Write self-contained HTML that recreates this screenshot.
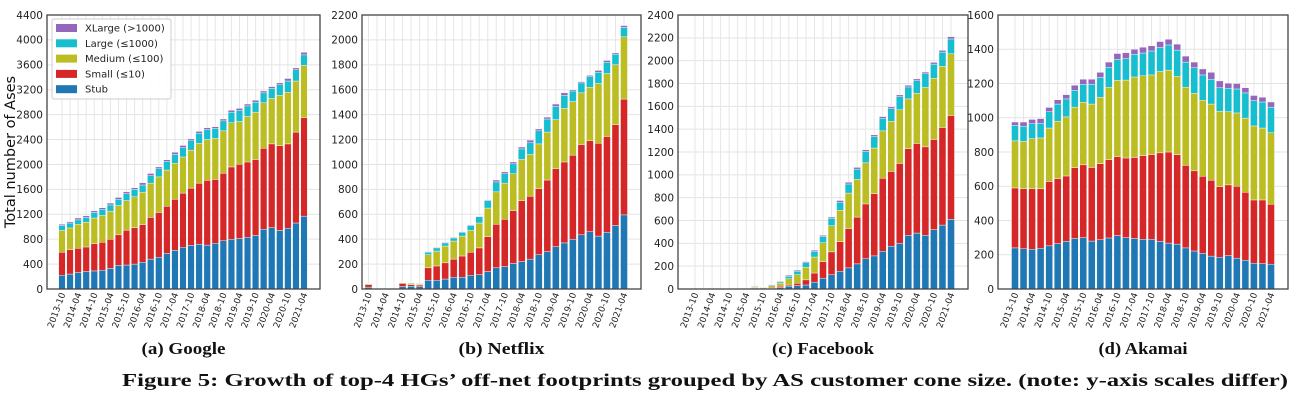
<!DOCTYPE html>
<html><head><meta charset="utf-8">
<style>
html,body{margin:0;padding:0;background:#fff;}
body{width:1297px;height:406px;overflow:hidden;}
svg text{font-family:"DejaVu Sans","Liberation Sans",sans-serif;}
.cap{font-family:"Liberation Serif",serif;font-weight:bold;}
</style></head>
<body>
<svg id="fig" width="1297" height="406" viewBox="0 0 1297 406" xmlns="http://www.w3.org/2000/svg"></svg>
<script>
// ---- data (cumulative stack levels per bar, quarterly 2013-10 .. 2021-04) ----
const tickLabels = ["2013-10","2014-04","2014-10","2015-04","2015-10","2016-04","2016-10","2017-04","2017-10","2018-04","2018-10","2019-04","2019-10","2020-04","2020-10","2021-04"];
const seriesNames = ["Stub","Small (≤10)","Medium (≤100)","Large (≤1000)","XLarge (>1000)"];
const seriesColors = ["#1f77b4","#d62728","#bcbd22","#17becf","#9467bd"];

const googleStub   = [220,240,265,280,290,300,330,380,385,400,430,480,510,570,620,670,700,720,705,735,775,800,810,830,860,960,985,940,975,1060,1170];
const googleSmall  = [590,630,655,675,730,750,800,870,945,985,1035,1150,1230,1330,1440,1540,1620,1700,1745,1760,1860,1960,2005,2040,2080,2260,2330,2300,2330,2520,2750];
const googleMedium = [940,980,1040,1070,1140,1180,1250,1340,1420,1480,1555,1700,1800,1910,2020,2120,2230,2340,2400,2420,2540,2670,2690,2770,2840,2990,3060,3110,3160,3340,3590];
const googleLarge  = [1020,1060,1110,1150,1230,1280,1350,1440,1530,1600,1670,1820,1930,2050,2160,2270,2380,2500,2560,2580,2700,2840,2870,2940,3000,3150,3220,3280,3340,3520,3760];
const googleXLarge = [1040,1080,1140,1175,1255,1305,1380,1470,1560,1625,1705,1855,1960,2075,2195,2305,2410,2530,2590,2605,2730,2870,2900,2970,3030,3180,3250,3310,3380,3550,3800];

const netflixStub   = [15,0,0,0,20,22,18,70,70,80,95,95,110,115,140,170,180,205,220,240,275,300,340,370,400,435,460,425,455,510,595];
const netflixSmall  = [35,0,0,0,45,35,32,170,185,210,240,265,295,330,420,520,560,630,710,745,805,875,965,1020,1075,1160,1190,1170,1225,1320,1525];
const netflixMedium = [42,0,0,0,50,45,40,275,305,345,385,425,470,530,650,780,850,925,1040,1080,1165,1260,1360,1450,1505,1575,1620,1650,1730,1800,2025];
const netflixLarge  = [45,0,0,0,53,50,45,295,330,370,410,455,510,580,710,860,925,1005,1125,1175,1270,1365,1465,1555,1590,1655,1705,1740,1820,1885,2100];
const netflixXLarge = [47,0,0,0,55,52,47,300,335,375,415,460,515,585,715,875,940,1020,1140,1195,1285,1380,1485,1575,1600,1665,1715,1755,1835,1895,2115];

const facebookStub   = [0,0,0,0,0,0,0,5,5,8,12,25,30,35,60,95,125,155,185,220,265,290,330,375,400,470,490,470,520,560,610];
const facebookSmall  = [0,0,0,0,0,0,0,10,10,15,25,35,50,80,140,240,325,415,530,630,745,835,970,1030,1100,1230,1275,1245,1310,1415,1520];
const facebookMedium = [0,0,0,0,0,0,0,18,15,30,50,90,125,190,280,405,555,690,840,960,1105,1235,1385,1470,1570,1665,1715,1765,1845,1950,2060];
const facebookLarge  = [0,0,0,0,0,0,0,25,18,38,62,112,155,230,330,460,620,760,920,1050,1205,1335,1495,1580,1685,1770,1825,1885,1970,2075,2190];
const facebookXLarge = [0,0,0,0,0,0,0,28,20,40,68,120,165,240,340,470,630,775,935,1065,1220,1350,1510,1595,1700,1785,1840,1900,1985,2090,2210];

const akamaiStub   = [240,235,232,238,252,265,278,295,300,280,288,298,312,300,295,290,290,278,268,262,240,222,208,192,185,195,180,168,150,148,145];
const akamaiSmall  = [590,585,585,585,628,645,660,708,725,710,732,755,772,765,768,778,785,795,800,785,722,690,658,635,598,608,600,565,520,520,495];
const akamaiMedium = [865,862,878,882,940,980,1005,1062,1090,1080,1120,1178,1218,1220,1238,1245,1250,1270,1278,1242,1178,1142,1102,1080,1038,1035,1028,998,952,940,912];
const akamaiLarge  = [955,950,965,968,1035,1080,1110,1160,1195,1195,1235,1295,1340,1345,1370,1378,1390,1410,1425,1395,1325,1292,1250,1225,1175,1172,1168,1145,1100,1092,1062];
const akamaiXLarge = [975,975,990,995,1060,1105,1135,1190,1225,1225,1265,1325,1375,1380,1400,1412,1420,1445,1458,1430,1360,1325,1285,1265,1215,1202,1200,1175,1130,1120,1092];

const googleTicks = [0,400,800,1200,1600,2000,2400,2800,3200,3600,4000,4400];
const netflixTicks = [0,200,400,600,800,1000,1200,1400,1600,1800,2000,2200];
const facebookTicks = [0,200,400,600,800,1000,1200,1400,1600,1800,2000,2200,2400];
const akamaiTicks = [0,200,400,600,800,1000,1200,1400,1600];

const NS = "http://www.w3.org/2000/svg";
const svg = document.getElementById('fig');
function mk(tag, attrs, parent){
  const e = document.createElementNS(NS, tag);
  for (const k in attrs) e.setAttribute(k, attrs[k]);
  (parent||svg).appendChild(e);
  return e;
}

const panels = [
  {key:"google", name:"(a) Google", cw:84, L:47, R:320, c0:62, c1:304, ymax:4400, ticks:googleTicks,
   s:[googleStub,googleSmall,googleMedium,googleLarge,googleXLarge]},
  {key:"netflix", name:"(b) Netflix", cw:86, L:362, R:641, c0:368.5, c1:624, ymax:2200, ticks:netflixTicks,
   s:[netflixStub,netflixSmall,netflixMedium,netflixLarge,netflixXLarge]},
  {key:"facebook", name:"(c) Facebook", cw:102, L:678, R:968, c0:695, c1:951, ymax:2400, ticks:facebookTicks,
   s:[facebookStub,facebookSmall,facebookMedium,facebookLarge,facebookXLarge]},
  {key:"akamai", name:"(d) Akamai", cw:89, L:998, R:1288, c0:1015, c1:1271, ymax:1600, ticks:akamaiTicks,
   s:[akamaiStub,akamaiSmall,akamaiMedium,akamaiLarge,akamaiXLarge]}
];
const TOP = 15, BOT = 289;

panels.forEach(p=>{
  const g = mk('g',{});
  
  
  const n = p.s[0].length;
  const step = (p.c1 - p.c0)/(n-1);
  const xs = i => p.c0 + i*step;
  const ys = v => BOT - v/p.ymax*(BOT-TOP);
  p.ticks.forEach(t=>{
    const y = ys(t);
    const gl = mk('line',{x1:p.L,x2:p.R,y1:y,y2:y,stroke:'#e3e3e3','stroke-width':1},g);
    
    
    const tl = mk('text',{x:p.L-4,y:y+3.8,'font-size':10.5,'text-anchor':'end',fill:'#222'},g);
    tl.textContent = t;
    
    
  });
  for(let i=0;i<n;i++){
    const vl = mk('line',{x1:xs(i),x2:xs(i),y1:TOP,y2:BOT,stroke:'#e6e6e6','stroke-width':1},g);
    
    
  }
  const bw = step*0.82;
  for(let i=0;i<n;i++){
    let prev = 0;
    for(let k=0;k<5;k++){
      const top = Math.max(prev, p.s[k][i]);
      if (top > prev){
        const r = mk('rect',{x:xs(i)-bw/2,y:ys(top),width:bw,height:ys(prev)-ys(top),fill:seriesColors[k],stroke:'#fff','stroke-width':0.4},g);
        
        
      }
      prev = top;
    }
  }
  const fr = mk('rect',{x:p.L,y:TOP,width:p.R-p.L,height:BOT-TOP,fill:'none',stroke:'#444','stroke-width':1.3},g);
  
  
  tickLabels.forEach((lab,j)=>{
    const x = xs(j*2);
    const t = mk('text',{x:0,y:0,'font-size':8.8,'text-anchor':'end',fill:'#222',
      transform:`translate(${x+3.5},${BOT+5}) rotate(-70)`},g);
    t.textContent = lab;
    
    
  });
  const c = mk('text',{x:(p.L+p.R)/2,y:354,'font-size':17,'text-anchor':'middle',fill:'#111','class':'cap',
    textLength:p.cw,lengthAdjust:'spacingAndGlyphs'},g);
  c.textContent = p.name;
  
  
});

const yt = mk('text',{x:0,y:0,'font-size':14.5,'text-anchor':'middle',fill:'#111',transform:'translate(15,152) rotate(-90)'});
yt.textContent = 'Total number of Ases';



const lg = mk('g',{});


mk('rect',{x:52,y:19,width:119,height:80,fill:'#fff','fill-opacity':0.9,stroke:'#ccc','stroke-width':1,rx:2},lg);
for(let k=4;k>=0;k--){
  const row = 4-k;
  const y = 28 + row*15.3;
  const sw = mk('rect',{x:56,y:y-4,width:21,height:8,fill:seriesColors[k]},lg);
  
  
  const t = mk('text',{x:85,y:y+3.5,'font-size':10,fill:'#222'},lg);
  t.textContent = seriesNames[k];
  
  
}

const fc = mk('text',{x:122,y:386,'font-size':18,fill:'#111','class':'cap',textLength:1166,lengthAdjust:'spacingAndGlyphs'});
fc.textContent = 'Figure 5: Growth of top-4 HGs’ off-net footprints grouped by AS customer cone size. (note: y-axis scales differ)';


</script>
</body></html>
